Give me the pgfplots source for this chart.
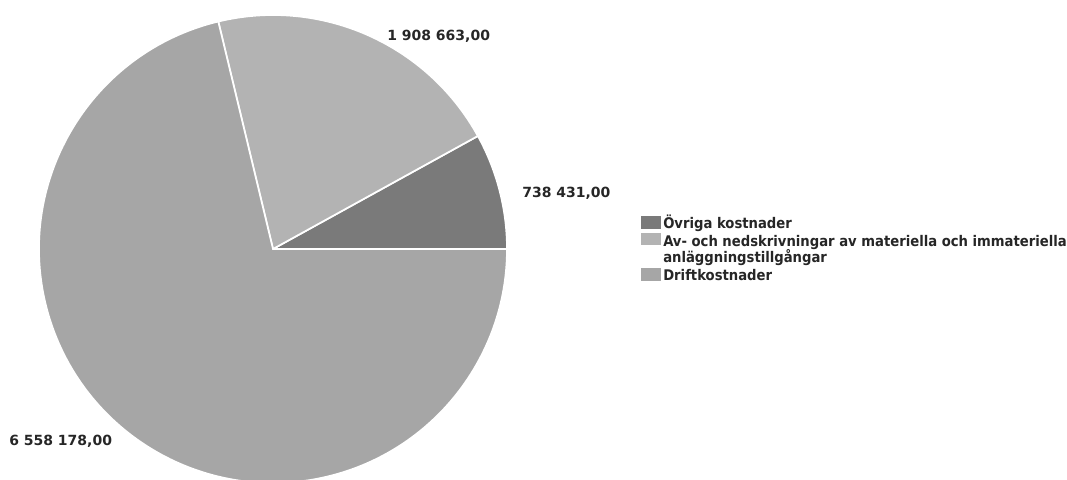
\documentclass[border=0pt]{standalone}
\usepackage{fontspec}
\usepackage{pgfplots}
\usepackage{pgfplotstable}
\pgfplotsset{compat=1.18}
\setmainfont{DejaVu Sans}
\newfontfamily\legfont{DejaVu Sans Condensed}[BoldFont={DejaVu Sans Condensed Bold}]

\definecolor{ovrig}{RGB}{122,122,122}
\definecolor{avskr}{RGB}{179,179,179}
\definecolor{drift}{RGB}{166,166,166}

% Kostnader (kr)
\pgfplotstableread[col sep=comma]{
post,value
Ovriga,738431
Avskrivningar,1908663
Drift,6558178
}\costtable

\pgfplotstablegetelem{0}{value}\of\costtable \let\vA\pgfplotsretval
\pgfplotstablegetelem{1}{value}\of\costtable \let\vB\pgfplotsretval
\pgfplotstablegetelem{2}{value}\of\costtable \let\vC\pgfplotsretval
\edef\total{\fpeval{\vA+\vB+\vC}}
\edef\angA{\fpeval{360*\vA/\total}}
\edef\angB{\fpeval{\angA+360*\vB/\total}}

\newcommand\lbl{\bfseries\fontsize{10.5pt}{10.5pt}\selectfont}
\newcommand\leg{\legfont\bfseries\fontsize{11pt}{11pt}\selectfont}
\pgfkeys{/pgf/number format/.cd, fixed, fixed zerofill, precision=2,
  1000 sep={\ }, dec sep={,}, assume math mode=true}
\tikzset{legtext/.style={anchor=base west, inner sep=0pt, font=\leg, text=black!85,
  text height=8pt, text depth=2.5pt}}

\begin{document}
\begin{tikzpicture}
\begin{axis}[name=ax, x=0.75pt, y=0.75pt, xmin=0, xmax=1067, ymin=0, ymax=479,
  hide axis, scale only axis, clip=true]
  % slices
  \fill[ovrig, draw=white, line width=1.3pt] (axis cs:273,230) -- ++(0:175.5pt)
    arc[start angle=0, end angle=\angA, radius=175.5pt] -- cycle;
  \fill[avskr, draw=white, line width=1.3pt] (axis cs:273,230) -- ++(\angA:175.5pt)
    arc[start angle=\angA, end angle=\angB, radius=175.5pt] -- cycle;
  \fill[drift, draw=white, line width=1.3pt] (axis cs:273,230) -- ++(\angB:175.5pt)
    arc[start angle=\angB, end angle=360, radius=175.5pt] -- cycle;
  % value labels
  \node[anchor=base west, inner sep=0pt, font=\lbl, text=black!85] at (axis cs:387,438) {\pgfmathprintnumber{\vB}};
  \node[anchor=base west, inner sep=0pt, font=\lbl, text=black!85] at (axis cs:522,281) {\pgfmathprintnumber{\vA}};
  \node[anchor=base west, inner sep=0pt, font=\lbl, text=black!85] at (axis cs:9,34) {\pgfmathprintnumber{\vC}};
  % legend
  \fill[ovrig] (axis cs:641,250) rectangle (axis cs:661,263);
  \fill[avskr] (axis cs:641,234) rectangle (axis cs:661,246);
  \fill[drift] (axis cs:641,198) rectangle (axis cs:661,211);
  \node[legtext] at (axis cs:663,250) {Övriga kostnader};
  \node[legtext] at (axis cs:663,233) {Av- och nedskrivningar av materiella och immateriella};
  \node[legtext] at (axis cs:663,216) {anläggningstillgångar};
  \node[legtext] at (axis cs:663,199) {Driftkostnader};
\end{axis}
\pgfresetboundingbox
\useasboundingbox (ax.south west) rectangle (ax.north east);
\end{tikzpicture}
\end{document}
